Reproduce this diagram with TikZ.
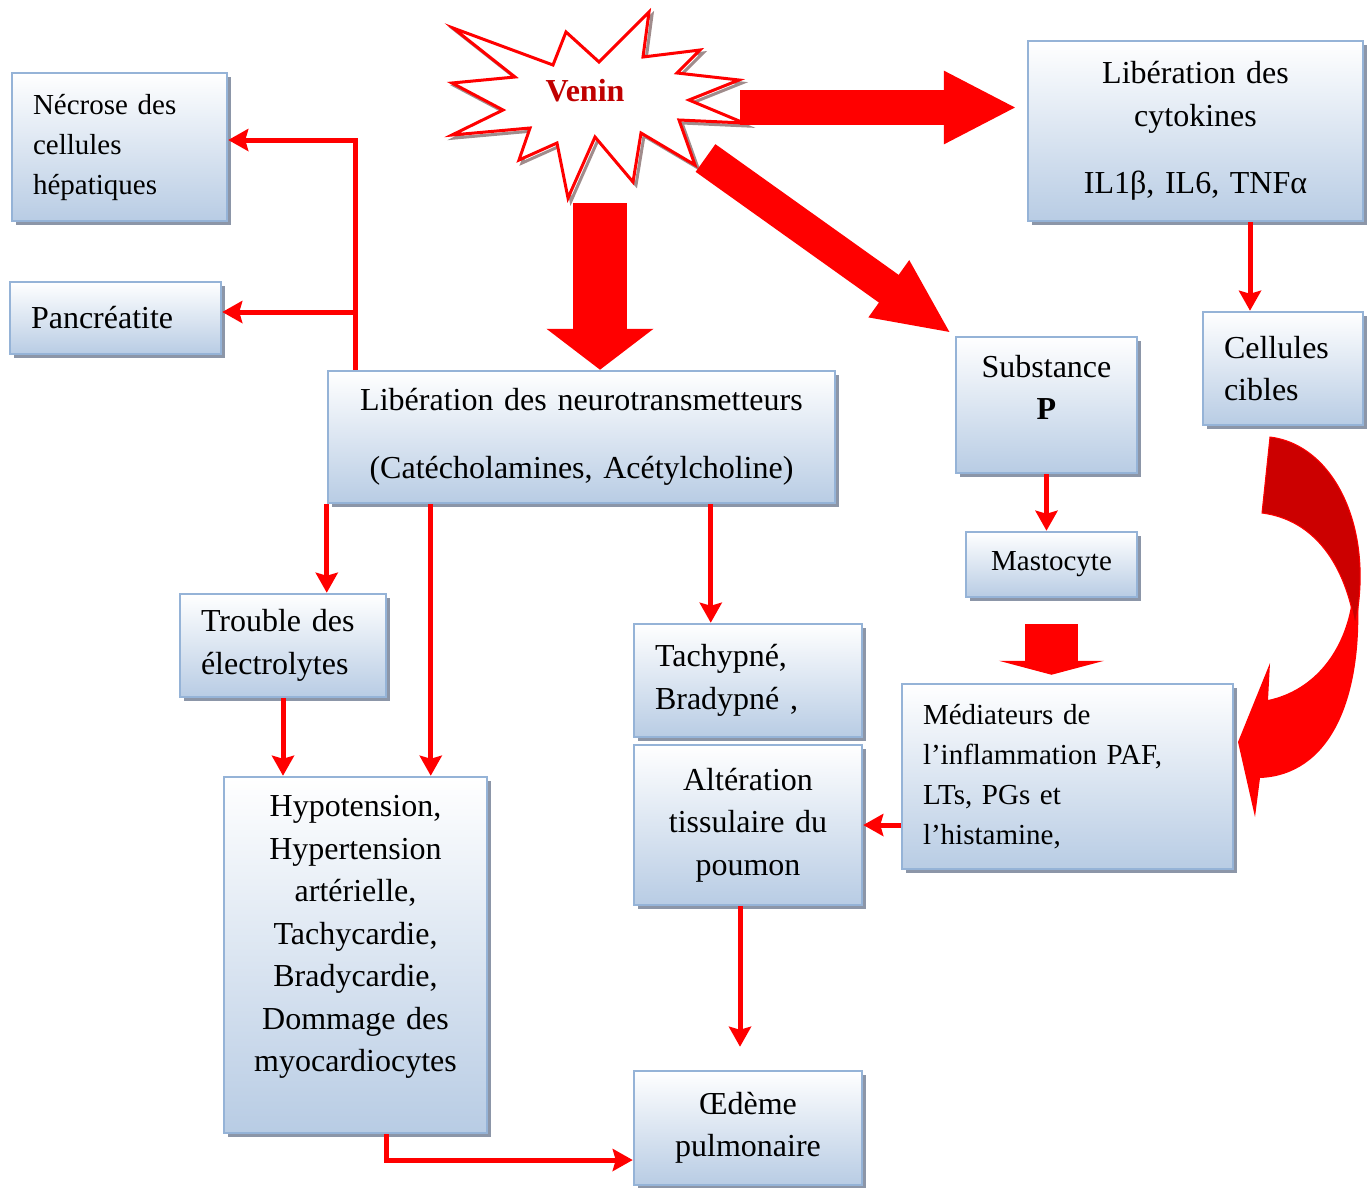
\documentclass[tikz,border=0pt]{standalone}
\usepackage{fontspec}
\setmainfont{Liberation Serif}
\usetikzlibrary{arrows.meta,shadows}
\definecolor{boxline}{RGB}{149,179,215}
\definecolor{boxblue}{RGB}{184,204,228}
\definecolor{boxshade}{RGB}{140,150,168}
\definecolor{venred}{RGB}{192,0,0}
\definecolor{curvered}{RGB}{204,0,0}
\definecolor{burstshade}{RGB}{160,140,140}
\begin{document}
\begin{tikzpicture}[x=1pt, y=-1pt,
		box/.style = {draw=boxline, line width=2.5pt, top color=white, bottom color=boxblue, drop shadow={shadow xshift=4pt, shadow yshift=-4pt, fill=boxshade, opacity=1}, inner xsep=21pt, inner ysep=0pt, font=\fontsize{32}{42.5}\selectfont},
		small/.style = {font=\fontsize{29}{40}\selectfont},
		link/.style = {red, line width=5pt, -{Stealth[length=20pt, width=22pt, inset=3pt]}},
		fat/.style = {red, line width=#1}]
	\useasboundingbox (0,0) rectangle (1371,1187);
	\draw[red, line width=3pt, fill=white, preaction={draw=burstshade, line width=3pt, transform canvas={xshift=3pt, yshift=-3pt}}] (453,28) -- (553,65) -- (566,32) -- (599,62) -- (649,12) -- (643,57) -- (700,50) -- (677,73) -- (739,80) -- (689,100) -- (744,123) -- (679,120) -- (695,165) -- (641,133) -- (633,182) -- (595,137) -- (568,198) -- (557,143) -- (519,160) -- (530,128) -- (452,135) -- (503,110) -- (452,83) -- (515,77) -- cycle;
	\node[font=\fontsize{32}{38}\selectfont\bfseries, text=venred] (venin) at (585,91) {Venin};
	\node[box, small, minimum width=215pt, minimum height=148pt, text width=173pt, align=left] (necrose) at (119.5,147) {Nécrose des\\cellules\\hépatiques};
	\node[box, minimum width=211pt, minimum height=72pt, text width=169pt, align=left] (pancreatite) at (115.5,318) {Pancréatite};
	\node[box, minimum width=507pt, minimum height=132pt, text width=465pt, align=center] (neuro) at (581.5,437) {Libération des neurotransmetteurs\\[25pt](Catécholamines, Acétylcholine)};
	\node[box, minimum width=335pt, minimum height=180pt, text width=293pt, align=center] (cytokines) at (1195.5,131) {Libération des\\cytokines\\[25pt]IL1β, IL6, TNFα};
	\node[box, minimum width=181pt, minimum height=136pt, text width=139pt, align=center] (substance) at (1046.5,405) {Substance\\\textbf{P}\\[-7pt]\mbox{}};
	\node[box, minimum width=160pt, minimum height=113pt, text width=118pt, align=left] (cellules) at (1283,368.5) {Cellules\\cibles};
	\node[box, small, minimum width=171pt, minimum height=65pt, align=center] (mastocyte) at (1051.5,564.5) {Mastocyte};
	\node[box, minimum width=206pt, minimum height=103pt, text width=164pt, align=left] (trouble) at (283,645.5) {Trouble des\\électrolytes};
	\node[box, minimum width=228pt, minimum height=113pt, text width=186pt, align=left] (tachypne) at (748,680.5) {Tachypné,\\Bradypné ,};
	\node[box, minimum width=228pt, minimum height=160pt, text width=186pt, align=center] (alteration) at (748,825) {Altération\\tissulaire du\\poumon};
	\node[box, small, minimum width=331pt, minimum height=185pt, text width=289pt, align=left] (mediateurs) at (1067.5,776.5) {Médiateurs de\\l’inflammation PAF,\\LTs, PGs et\\l’histamine,};
	\node[box, minimum width=263pt, minimum height=356pt, text width=221pt, align=center] (hypo) at (355.5,955) {Hypotension,\\Hypertension\\artérielle,\\Tachycardie,\\Bradycardie,\\Dommage des\\myocardiocytes\\\mbox{}};
	\node[box, minimum width=228pt, minimum height=114pt, text width=186pt, align=center] (oedeme) at (748,1128) {Œdème\\pulmonaire};
	\coordinate (burst-e) at (740,107.5);
	\coordinate (burst-s) at (600,203);
	\coordinate (burst-se) at (705.5,158);
	\draw[fat=35pt, -{Triangle[length=73pt, width=68pt]}, shorten >=10pt] (burst-e) -- (burst-e -| cytokines.west);
	\draw[fat=54pt, -{Triangle[length=41pt, width=105pt]}] (burst-s) -- (burst-s |- neuro.north);
	\draw[fat=34pt, -{Triangle[length=77pt, width=64pt]}, shorten >=4pt] (burst-se) -- (substance.north west);
	\draw[fat=53pt, -{Triangle[length=14pt, width=105pt]}, shorten >=8pt] ([yshift=-26pt]mastocyte.south) -- (mastocyte.south |- mediateurs.north);
	\fill[red] (1358,600) .. controls (1362,700) and (1330,775) .. (1260,778) -- (1255,817) -- (1238,742) -- (1270,663) -- (1268,700) .. controls (1315,690) and (1345,650) .. (1352,600) -- cycle;
	\filldraw[fill=curvered, draw=red, line width=1pt] (1270,437) .. controls (1335,445) and (1375,530) .. (1355,625) .. controls (1345,565) and (1315,520) .. (1262,513) -- cycle;
	\coordinate (trunk) at ([xshift=29pt]neuro.north west);
	\coordinate (panc-in) at ([yshift=6pt]pancreatite.east);
	\draw[link] (trunk) |- ([yshift=7pt]necrose.east);
	\draw[link] (trunk |- panc-in) -- (panc-in);
	\coordinate (n2) at ([xshift=104pt]neuro.south west);
	\coordinate (n3) at ([xshift=384pt]neuro.south west);
	\draw[link] (neuro.south west) -- (neuro.south west |- trouble.north);
	\draw[link] (n2) -- (n2 |- hypo.north);
	\draw[link] (n3) -- (n3 |- tachypne.north);
	\coordinate (c1) at ([xshift=54.5pt]cytokines.south);
	\draw[link] (c1) -- (c1 |- cellules.north);
	\draw[link] (substance.south) -- (substance.south |- mastocyte.north);
	\draw[link] (trouble.south) -- (trouble.south |- hypo.north);
	\draw[link] (mediateurs.west |- alteration.east) -- (alteration.east);
	\coordinate (alt-out) at ([xshift=-8pt]alteration.south);
	\draw[link, shorten >=23pt] (alt-out) -- (alt-out |- oedeme.north);
	\draw[link] ([xshift=30.5pt]hypo.south) |- ([yshift=-32pt]oedeme.west);
\end{tikzpicture}
\end{document}
